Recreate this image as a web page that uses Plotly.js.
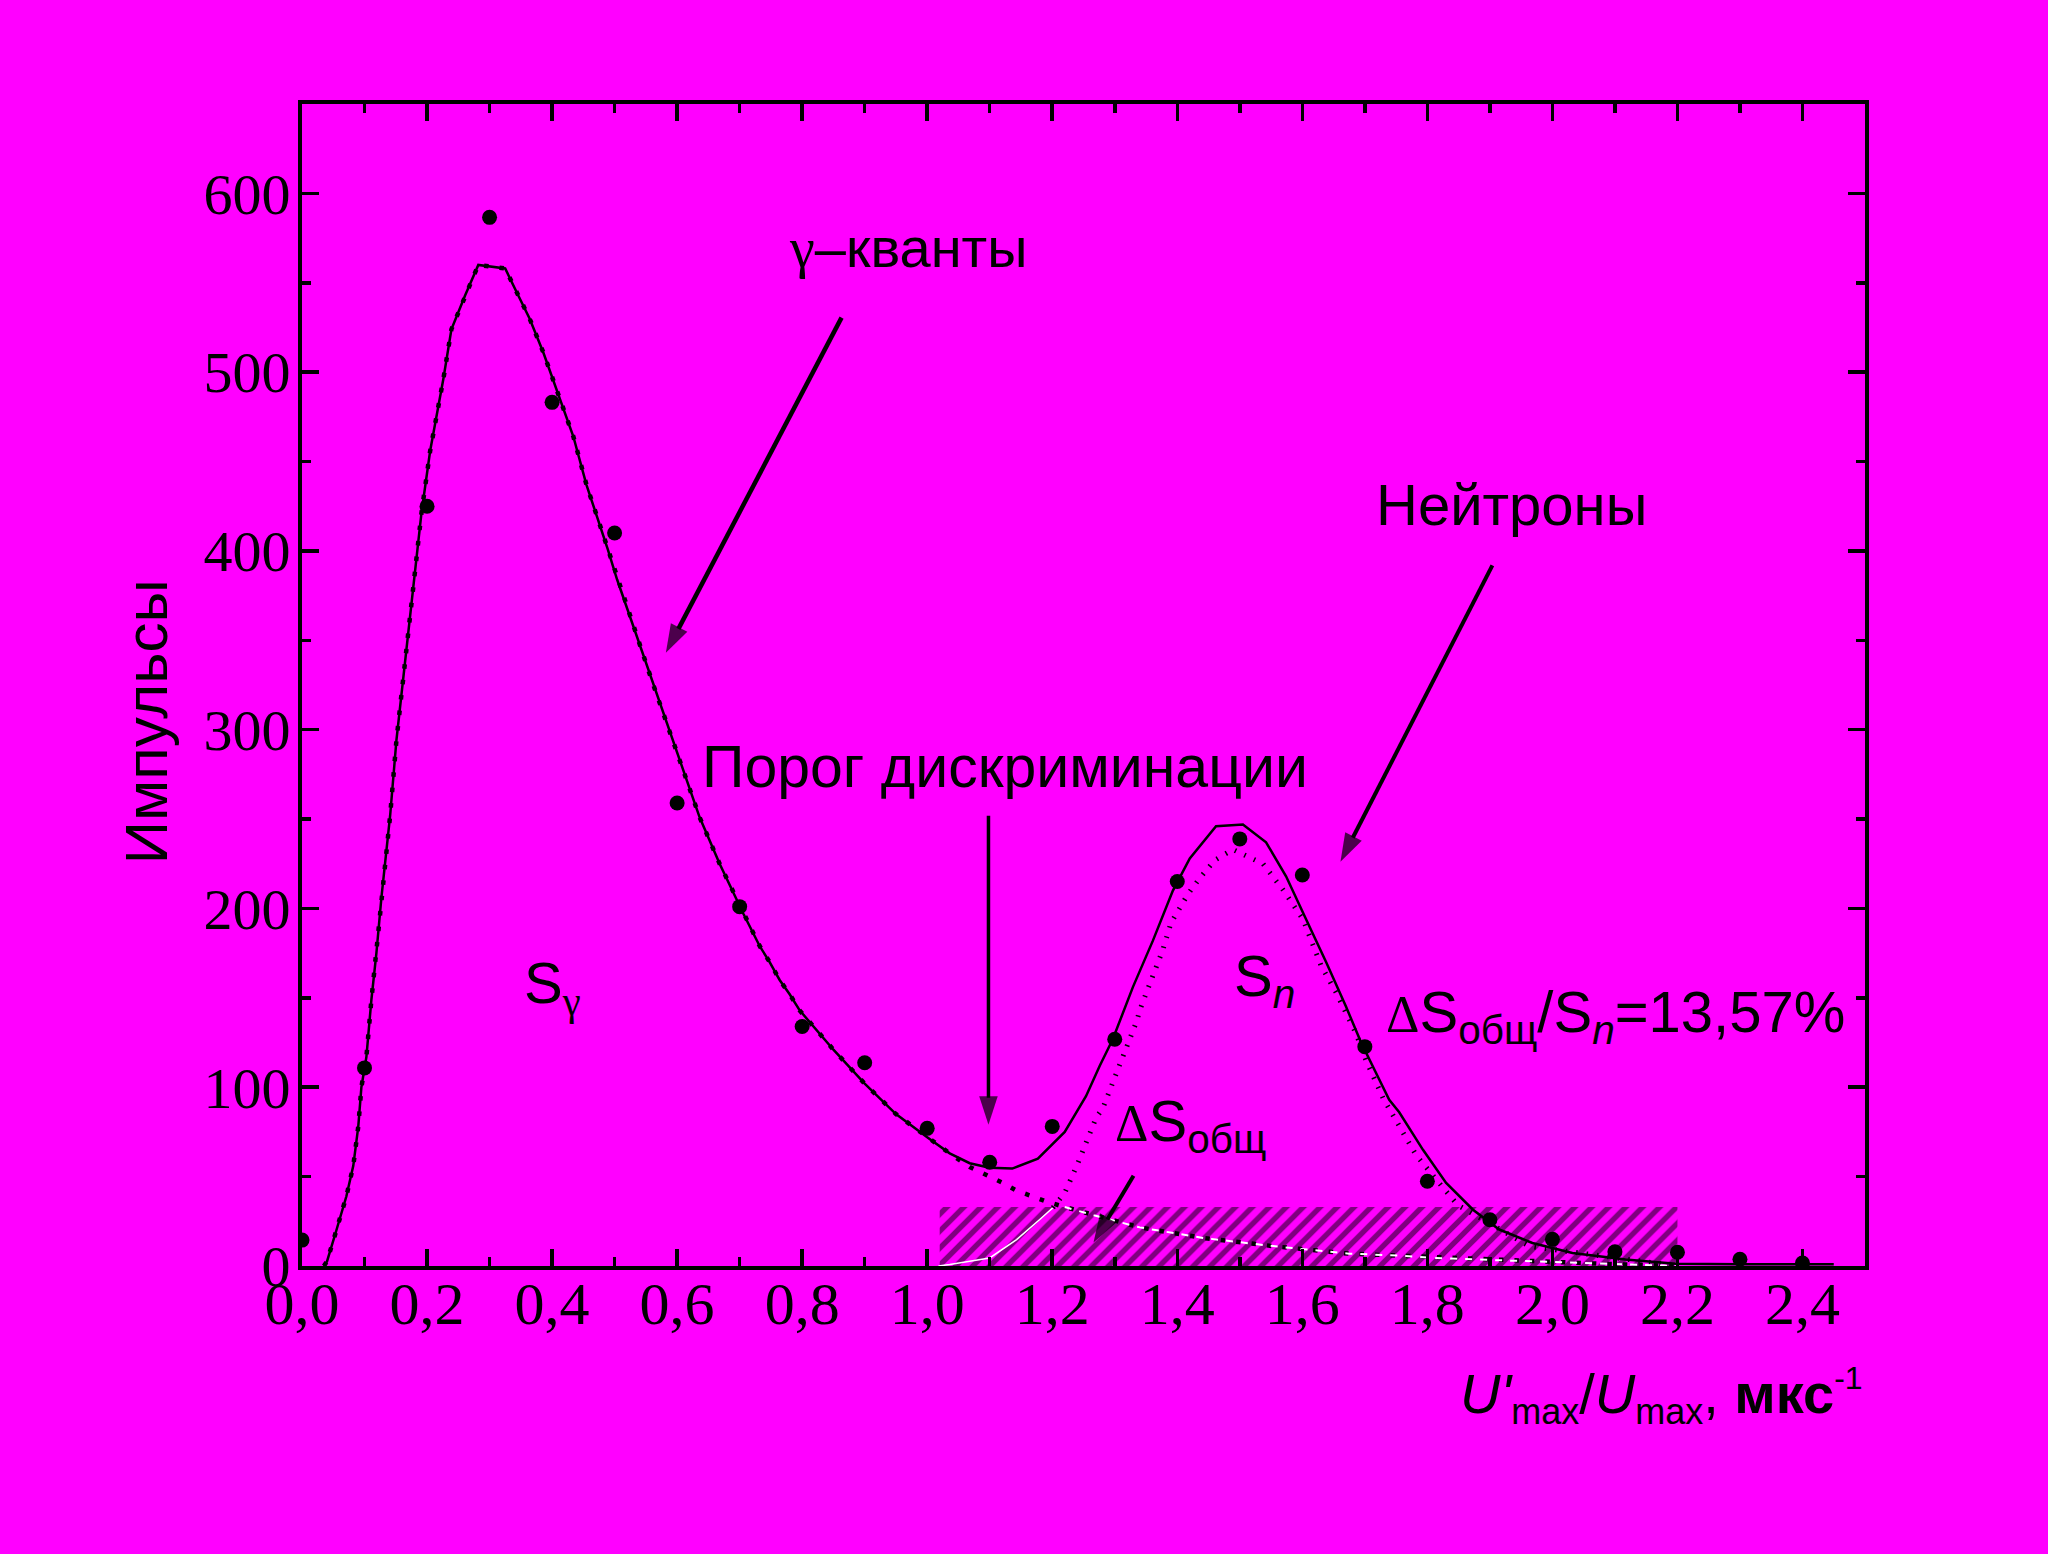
<!DOCTYPE html>
<html>
<head>
<meta charset="utf-8">
<script src="https://cdn.plot.ly/plotly-3.0.1.min.js"></script>
<style>html,body{margin:0;padding:0;background:#FF00FF;}</style>
</head>
<body>
<div id="chart" style="width:2048px;height:1554px;"></div>
<script>
// ---- data ----
const pointsX = [0.0, 0.1, 0.2, 0.3, 0.4, 0.5, 0.6, 0.7, 0.8, 0.9, 1.0, 1.1, 1.2, 1.3, 1.4, 1.5, 1.6, 1.7, 1.8, 1.9, 2.0, 2.1, 2.2, 2.3, 2.4];
const pointsY = [14.5, 110.8, 425, 586.6, 483.1, 410, 259, 201, 134, 113.7, 77, 58, 78.1, 126.8, 215.1, 238.9, 218.7, 122.7, 47.4, 25.9, 14.9, 8, 7.7, 3.8, 1.7];

const totalX = [0.035, 0.04, 0.055, 0.071, 0.082, 0.09, 0.095, 0.103, 0.111, 0.119, 0.127, 0.141, 0.151, 0.165, 0.175, 0.191, 0.205, 0.215, 0.226, 0.239, 0.247, 0.261, 0.282, 0.325, 0.343, 0.364, 0.386, 0.412, 0.434, 0.455, 0.474, 0.489, 0.504, 0.53, 0.56, 0.6, 0.636, 0.668, 0.706, 0.732, 0.748, 0.764, 0.78, 0.796, 0.85, 0.9, 0.95, 1.0, 1.036, 1.068, 1.1, 1.136, 1.177, 1.22, 1.254, 1.276, 1.297, 1.329, 1.361, 1.393, 1.42, 1.462, 1.505, 1.542, 1.574, 1.606, 1.638, 1.67, 1.694, 1.739, 1.755, 1.793, 1.83, 1.873, 1.915, 1.968, 2.032, 2.117, 2.197, 2.3, 2.45];
const totalY = [0, 2.6, 20, 39, 56, 78, 100, 117, 149, 175, 206, 252, 294, 339, 372, 421, 456, 474, 496, 524, 531, 543, 560, 558, 545, 530, 511, 486, 464, 437, 417, 401, 384, 358, 327, 287, 251, 225, 197, 179, 170, 160, 152, 143, 121, 102, 85, 72, 63, 57.5, 55, 54.5, 60, 75, 95, 112, 127, 156, 182, 210, 228, 246, 247, 237, 218, 194, 170, 145, 125, 93, 86, 65, 46.5, 31.5, 20.4, 12.9, 7.3, 3.6, 1.3, 1, 1];

// gamma component: same as the total up to the split, then continues down
const gammaSplitX = 1.036;
const gammaTailX = [1.068, 1.095, 1.119, 1.142, 1.166, 1.193, 1.22, 1.268, 1.34, 1.441, 1.564, 1.675, 1.755, 1.809, 1.915, 2.075, 2.197];
const gammaTailY = [55.4, 51.1, 46.8, 42.3, 39, 35.8, 33, 28.2, 21.6, 15.7, 10.7, 6.9, 5.8, 4.5, 3.2, 1.3, 0];

// neutron component
const neutronX = [1.018, 1.036, 1.1, 1.143, 1.18, 1.201, 1.22, 1.24, 1.27, 1.281, 1.308, 1.334, 1.342, 1.377, 1.39, 1.417, 1.436, 1.46, 1.489, 1.537, 1.569, 1.601, 1.63, 1.654, 1.686, 1.702, 1.729, 1.782, 1.827, 1.849, 1.963, 2.19];
const neutronY = [0, 0.8, 4.5, 14.8, 26, 32.6, 40.9, 56.7, 82.8, 88.4, 112.6, 136, 145, 177, 192, 208, 217, 227, 233, 225, 210.5, 194, 168, 153, 130, 115, 94, 62, 43, 34, 11, 0.5];

// hatched overlap region ΔS
const hatchX = [1.02, 2.2, 2.2, 1.02, 1.02];
const hatchY = [0, 0, 33, 33, 0];

// axis ticks
const xTickVals = [0, 0.2, 0.4, 0.6, 0.8, 1.0, 1.2, 1.4, 1.6, 1.8, 2.0, 2.2, 2.4];
const xTickText = ['0,0', '0,2', '0,4', '0,6', '0,8', '1,0', '1,2', '1,4', '1,6', '1,8', '2,0', '2,2', '2,4'];
const yTickVals = [0, 100, 200, 300, 400, 500, 600];
const yTickText = ['0', '100', '200', '300', '400', '500', '600'];

// ---- derived series ----
const gammaX = [], gammaY = [];
totalX.forEach((x, i) => { if (x <= gammaSplitX) { gammaX.push(x); gammaY.push(totalY[i]); } });
gammaTailX.forEach((x, i) => { gammaX.push(x); gammaY.push(gammaTailY[i]); });
const gWhiteX = [], gWhiteY = [];
gammaX.forEach((x, i) => { if (x >= 1.22) { gWhiteX.push(x); gWhiteY.push(gammaY[i]); } });
const nLowX = [], nLowY = [], nHighX = [], nHighY = [];
neutronX.forEach((x, i) => {
  if (x <= 1.201) { nLowX.push(x); nLowY.push(neutronY[i]); }
  if (x >= 1.201) { nHighX.push(x); nHighY.push(neutronY[i]); }
});

// ---- annotation arrows (tail -> tip, data coords) ----
const arrows = [
  {x: [0.863, 0.582], y: [530.5, 343], w: 4.5},
  {x: [1.098, 1.098], y: [251.8, 79], w: 3.5},
  {x: [1.904, 1.661], y: [391.9, 226.1], w: 4},
  {x: [1.330, 1.266], y: [50.5, 13.1], w: 4}
];

const traces = [];
traces.push({
  x: hatchX, y: hatchY, mode: 'lines', fill: 'toself',
  fillcolor: 'rgba(0,0,0,0)', line: {width: 0, color: 'rgba(0,0,0,0)'},
  fillpattern: {shape: '/', fgcolor: 'black', bgcolor: 'rgba(0,0,0,0)', size: 12, solidity: 0.45, fillmode: 'overlay'},
  hoverinfo: 'skip'
});
traces.push({x: nLowX, y: nLowY, mode: 'lines', line: {color: 'white', width: 1.5}, hoverinfo: 'skip'});
traces.push({x: nHighX, y: nHighY, mode: 'lines', line: {color: 'black', width: 5, dash: '1.5px,9px'}, hoverinfo: 'skip'});
traces.push({x: gammaX, y: gammaY, mode: 'lines', line: {color: 'black', width: 4.5, dash: '4.5px,11px'}, hoverinfo: 'skip'});
traces.push({x: gWhiteX, y: gWhiteY, mode: 'lines', line: {color: 'white', width: 2, dash: '7px,8px'}, hoverinfo: 'skip'});
traces.push({x: totalX, y: totalY, mode: 'lines', line: {color: 'black', width: 2.5}, hoverinfo: 'skip'});
traces.push({x: pointsX, y: pointsY, mode: 'markers', marker: {color: 'black', size: 15, symbol: 'circle'}, hoverinfo: 'skip'});
arrows.forEach(a => traces.push({
  x: a.x, y: a.y, mode: 'lines+markers', cliponaxis: false,
  line: {color: 'black', width: a.w},
  marker: {symbol: ['circle', 'arrow'], size: [0, 30], color: 'black', angleref: 'previous', line: {width: 0}},
  hoverinfo: 'skip'
}));

const sans = 'Liberation Sans, Arial, sans-serif';
const serif = 'Liberation Serif, Times New Roman, serif';
function note(text, x, y, size, extra) {
  return Object.assign({text: text, x: x, y: y, xref: 'x', yref: 'y', xanchor: 'left', yanchor: 'middle',
    showarrow: false, font: {family: sans, size: size, color: 'black'}}, extra || {});
}
const delta = '<span style="font-family:Liberation Serif;font-size:52px">Δ</span>';
const annotations = [
  note('<span style="font-family:Liberation Serif">γ</span>–кванты', 0.775, 570, 56),
  note('Порог дискриминации', 0.636, 279, 59),
  note('Нейтроны', 1.714, 425.7, 58),
  note('S<sub><span style="font-family:Liberation Serif">γ</span></sub>', 0.352, 156, 58),
  note('S<sub><i>n</i></sub>', 1.488, 160, 58),
  note(delta + 'S<sub>общ</sub>', 1.297, 79, 58),
  note(delta + 'S<sub>общ</sub>/S<sub><i>n</i></sub>=13,57%', 1.730, 140, 58),
  {text: "<i>U'</i><sub><span style=\"font-size:36px\">max</span></sub>/<i>U</i><sub><span style=\"font-size:36px\">max</span></sub>, <b>мкс</b><sup><span style=\"font-size:32px\">-1</span></sup>",
   x: 0.7396, y: -0.112, xref: 'paper', yref: 'paper',
   xanchor: 'left', yanchor: 'middle', showarrow: false, font: {family: sans, size: 56, color: 'black'}},
  {text: 'Импульсы', x: -0.0998, y: 0.468, xref: 'paper', yref: 'paper', textangle: -90,
   xanchor: 'center', yanchor: 'middle', showarrow: false, font: {family: sans, size: 60, color: 'black'}}
];

const axisCommon = {
  showgrid: false, zeroline: false, showline: true, linecolor: 'black', linewidth: 4,
  mirror: 'allticks', ticks: 'inside', ticklen: 17, tickwidth: 3.5, tickcolor: 'black',
  tickmode: 'array', fixedrange: true
};
const layout = {
  width: 2048, height: 1554,
  margin: {l: 302, r: 183, t: 104, b: 288, pad: 0},
  paper_bgcolor: '#FF00FF', plot_bgcolor: '#FF00FF',
  showlegend: false, hovermode: false,
  font: {family: sans, color: 'black'},
  xaxis: Object.assign({}, axisCommon, {
    range: [0, 2.5], tickvals: xTickVals, ticktext: xTickText,
    tickfont: {family: serif, size: 60, color: 'black'}, ticklabelstandoff: -18,
    minor: {tickmode: 'linear', tick0: 0, dtick: 0.1, ticks: 'inside', ticklen: 9, tickwidth: 3.5, tickcolor: 'black', showgrid: false}
  }),
  yaxis: Object.assign({}, axisCommon, {
    range: [0, 650], tickvals: yTickVals, ticktext: yTickText,
    tickfont: {family: serif, size: 58, color: 'black'}, ticklabelstandoff: -4,
    minor: {tickmode: 'linear', tick0: 0, dtick: 50, ticks: 'inside', ticklen: 9, tickwidth: 3.5, tickcolor: 'black', showgrid: false}
  }),
  annotations: annotations
};
Plotly.newPlot('chart', traces, layout, {displayModeBar: false, staticPlot: true});
</script>
</body>
</html>
